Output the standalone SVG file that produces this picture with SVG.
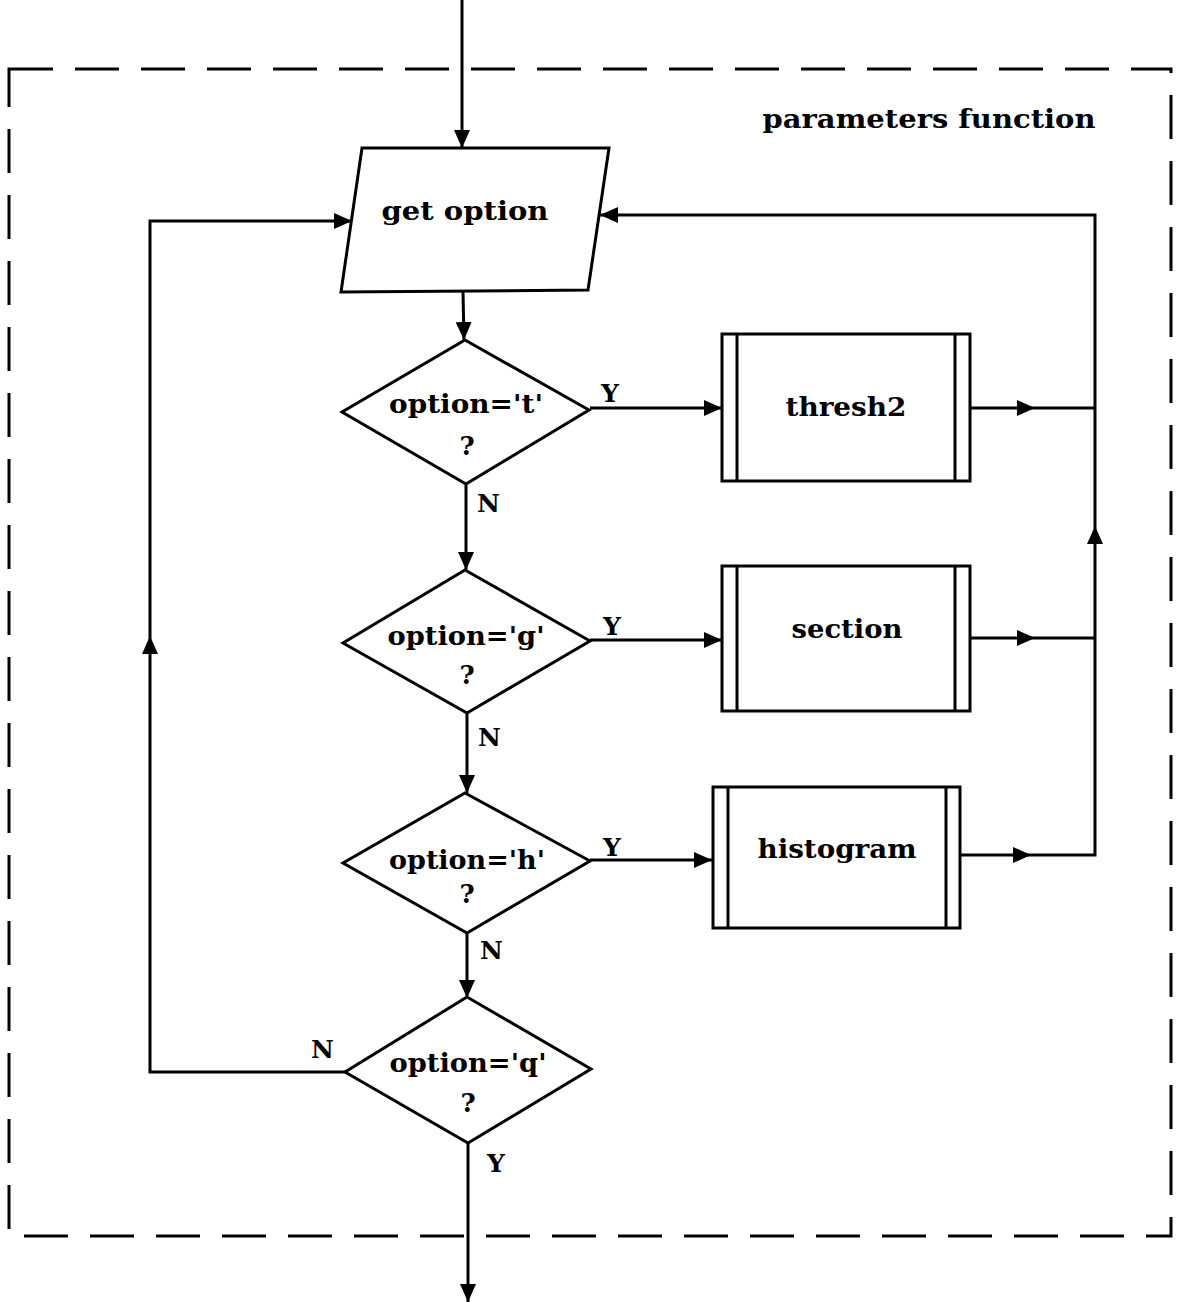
<svg xmlns="http://www.w3.org/2000/svg" width="1181" height="1302" viewBox="0 0 1181 1302">
<style>
.s{fill:none;stroke:#000;stroke-width:3}
.f{fill:#fff;stroke:#000;stroke-width:3}
.t{font-family:"DejaVu Serif","Liberation Serif",serif;font-weight:bold;font-size:26px;fill:#000;text-anchor:middle}
.l{font-family:"DejaVu Serif","Liberation Serif",serif;font-weight:bold;font-size:25px;fill:#000}
.a{fill:#000}
</style>
<defs>
<marker id="ah" markerWidth="18" markerHeight="16" refX="18" refY="8" orient="auto" markerUnits="userSpaceOnUse"><path d="M0,0 L18,8 L0,16 Z" class="a"/></marker>
<marker id="mid" markerWidth="18" markerHeight="16" refX="9" refY="8" orient="auto" markerUnits="userSpaceOnUse"><path d="M0,0 L18,8 L0,16 Z" class="a"/></marker>
</defs>
<rect x="9" y="69" width="1162" height="1167" fill="none" stroke="#000" stroke-width="3" stroke-dasharray="44,22"/>
<text class="t" x="929" y="128" textLength="333" lengthAdjust="spacingAndGlyphs">parameters function</text>
<g id="connectors">
<line class="s" x1="462" y1="0" x2="462" y2="148" marker-end="url(#ah)"/>
<line class="s" x1="463" y1="292" x2="464" y2="340" marker-end="url(#ah)"/>
<line class="s" x1="590" y1="408" x2="722" y2="408" marker-end="url(#ah)"/>
<line class="s" x1="466" y1="484" x2="466" y2="570" marker-end="url(#ah)"/>
<line class="s" x1="590" y1="640" x2="722" y2="640" marker-end="url(#ah)"/>
<line class="s" x1="467" y1="713" x2="467" y2="793" marker-end="url(#ah)"/>
<line class="s" x1="590" y1="860" x2="712" y2="860" marker-end="url(#ah)"/>
<line class="s" x1="467" y1="933" x2="467" y2="998" marker-end="url(#ah)"/>
<line class="s" x1="468" y1="1143" x2="468" y2="1302" marker-end="url(#ah)"/>
<polyline class="s" points="970,408 1026,408" marker-end="url(#mid)"/>
<line class="s" x1="1026" y1="408" x2="1095" y2="408"/>
<polyline class="s" points="970,638 1026,638" marker-end="url(#mid)"/>
<line class="s" x1="1026" y1="638" x2="1095" y2="638"/>
<polyline class="s" points="960,855 1022,855" marker-end="url(#mid)"/>
<polyline class="s" points="1022,855 1095,855 1095,535" marker-end="url(#mid)"/>
<polyline class="s" points="1095,535 1095,215 600,215" marker-end="url(#ah)"/>
<polyline class="s" points="345,1072 150,1072 150,645" marker-end="url(#mid)"/>
<polyline class="s" points="150,645 150,221 352,221" marker-end="url(#ah)"/>
<text class="l" x="601" y="402">Y</text>
<text class="l" x="477" y="512">N</text>
<text class="l" x="603" y="635">Y</text>
<text class="l" x="478" y="746">N</text>
<text class="l" x="603" y="856">Y</text>
<text class="l" x="480" y="959">N</text>
<text class="l" x="311" y="1058">N</text>
<text class="l" x="487" y="1172">Y</text>
</g>
<g id="get-option">
<polygon class="f" points="362,148 609,148 588,290 341,292"/>
<text class="t" x="465" y="220" textLength="167" lengthAdjust="spacingAndGlyphs">get option</text>
</g>
<g id="dec-t">
<polygon class="f" points="465,340 589,410 466,484 342,412"/>
<text class="t" x="466" y="413" textLength="154" lengthAdjust="spacingAndGlyphs">option='t'</text>
<text class="t" x="467" y="455">?</text>
</g>
<g id="thresh2">
<rect class="f" x="722" y="334" width="248" height="147"/>
<line class="s" x1="737" y1="334" x2="737" y2="481"/>
<line class="s" x1="955" y1="334" x2="955" y2="481"/>
<text class="t" x="846" y="416" textLength="121" lengthAdjust="spacingAndGlyphs">thresh2</text>
</g>
<g id="dec-g">
<polygon class="f" points="465,570 590,641 467,713 343,643"/>
<text class="t" x="466" y="645" textLength="157" lengthAdjust="spacingAndGlyphs">option='g'</text>
<text class="t" x="467" y="684">?</text>
</g>
<g id="section">
<rect class="f" x="722" y="566" width="248" height="145"/>
<line class="s" x1="737" y1="566" x2="737" y2="711"/>
<line class="s" x1="955" y1="566" x2="955" y2="711"/>
<text class="t" x="847" y="638" textLength="111" lengthAdjust="spacingAndGlyphs">section</text>
</g>
<g id="dec-h">
<polygon class="f" points="465,793 590,861 467,933 343,863"/>
<text class="t" x="467" y="869" textLength="156" lengthAdjust="spacingAndGlyphs">option='h'</text>
<text class="t" x="467" y="903">?</text>
</g>
<g id="histogram">
<rect class="f" x="713" y="787" width="247" height="141"/>
<line class="s" x1="728" y1="787" x2="728" y2="928"/>
<line class="s" x1="946" y1="787" x2="946" y2="928"/>
<text class="t" x="837" y="858" textLength="159" lengthAdjust="spacingAndGlyphs">histogram</text>
</g>
<g id="dec-q">
<polygon class="f" points="467,997 591,1069 468,1143 345,1072"/>
<text class="t" x="468" y="1072" textLength="157" lengthAdjust="spacingAndGlyphs">option='q'</text>
<text class="t" x="468" y="1112">?</text>
</g>
</svg>
